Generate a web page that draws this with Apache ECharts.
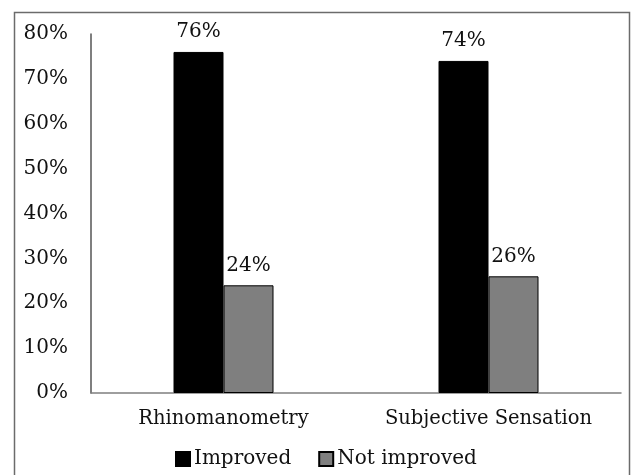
<!DOCTYPE html>
<html><head><meta charset="utf-8">
<script src="https://cdn.jsdelivr.net/npm/echarts@6/dist/echarts.min.js"></script>
<style>html,body{margin:0;padding:0;background:#fff}#c{width:631px;height:475px}</style>
</head><body><div id="c"></div>
<script>
const categories = ['Rhinomanometry', 'Subjective Sensation'];
const improved = [76, 74];
const notImproved = [24, 26];
const yTicks = [0, 10, 20, 30, 40, 50, 60, 70, 80];

const FONT = 'DejaVu Serif';
const FS = 20;
const chart = echarts.init(document.getElementById('c'), null, {renderer: 'canvas'});
chart.setOption({
  animation: false,
  backgroundColor: '#fff',
  textStyle: {fontFamily: FONT},
  graphic: [{
    type: 'rect', shape: {x: 14.5, y: 12.5, width: 615, height: 480}, silent: true,
    style: {fill: 'none', stroke: '#6b6b6b', lineWidth: 1.5}
  }],
  grid: {left: 91, right: 10, top: 34, bottom: 82, containLabel: false},
  legend: {
    bottom: 1, left: 170, itemWidth: 14, itemHeight: 14, itemGap: 27,
    icon: 'rect',
    textStyle: {fontFamily: FONT, fontSize: FS, color: '#111', padding: [0, 0, 0, -1]},
    data: ['Improved', 'Not improved']
  },
  xAxis: {
    type: 'category', data: categories,
    axisLine: {lineStyle: {color: '#7f7f7f', width: 1.5}},
    axisTick: {show: false},
    axisLabel: {fontFamily: FONT, fontSize: 19.5, color: '#111', margin: 16, interval: 0}
  },
  yAxis: {
    type: 'value', min: 0, max: 80, interval: 10,
    axisLine: {show: true, lineStyle: {color: '#555', width: 1.5}},
    axisTick: {show: false},
    splitLine: {show: false},
    axisLabel: {fontFamily: FONT, fontSize: FS, color: '#111', margin: 23,
      formatter: v => yTicks.includes(v) ? v + '%' : ''}
  },
  series: [
    {name: 'Improved', type: 'bar', data: improved, barWidth: 50, barGap: '0%',
     itemStyle: {color: '#000', borderColor: '#000', borderWidth: 1},
     label: {show: true, position: 'top', distance: 10, formatter: '{c}%',
       fontFamily: FONT, fontSize: FS, color: '#111'}},
    {name: 'Not improved', type: 'bar', data: notImproved, barWidth: 50,
     itemStyle: {color: '#7f7f7f', borderColor: '#000', borderWidth: 1},
     label: {show: true, position: 'top', distance: 10, formatter: '{c}%',
       fontFamily: FONT, fontSize: FS, color: '#111'}}
  ]
});
</script></body></html>
